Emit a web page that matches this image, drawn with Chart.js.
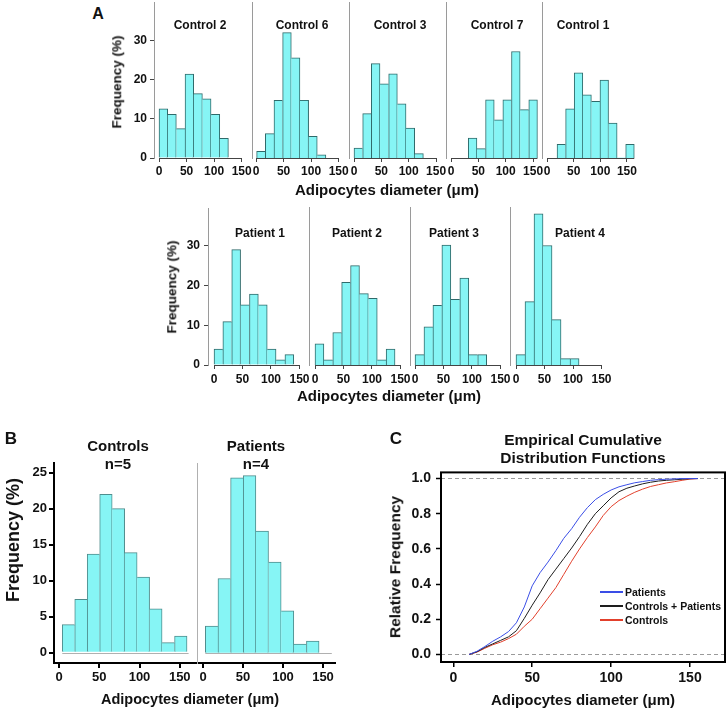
<!DOCTYPE html>
<html>
<head>
<meta charset="utf-8">
<title>Adipocytes diameter</title>
<script src="https://cdn.jsdelivr.net/npm/chart.js"></script>
<style>
  body { margin: 0; background: #fff; }
  #fig { position: relative; width: 727px; height: 709px; overflow: hidden; background: #fff;
         font-family: "Liberation Sans", Arial, Helvetica, sans-serif; font-weight: bold; color: #111; }
  #fig canvas { position: absolute; }
  .txt { position: absolute; white-space: nowrap; line-height: 1; }
  .key { position: absolute; height: 2px; width: 23px; }
</style>
</head>
<body>
<div id="fig"></div>
<script>
// tick values
var histTicks = [0, 50, 100, 150];
var freqTicksA = [0, 10, 20, 30];
var freqTicksB = [0, 5, 10, 15, 20, 25];
var relTicks = [0, 0.2, 0.4, 0.6, 0.8, 1.0];

// A - one histogram per subject (bin centre in um, frequency in %)
var controlNames = ['Control 2', 'Control 6', 'Control 3', 'Control 7', 'Control 1'];
var control2Bins = [7.9, 23.6, 39.4, 55.1, 70.9, 86.6, 102.4, 118.1];
var control2Freq = [12.5, 11.1, 7.5, 21.4, 16.4, 15.1, 11.1, 5.0];
var control6Bins = [9.0, 24.8, 40.5, 56.2, 71.9, 87.6, 103.3, 119.0];
var control6Freq = [1.7, 6.2, 14.7, 31.9, 25.5, 14.7, 5.5, 0.8];
var control3Bins = [7.9, 23.8, 39.6, 55.5, 71.3, 87.2, 103.0, 118.9];
var control3Freq = [2.5, 11.3, 24.0, 18.9, 21.4, 13.8, 7.6, 1.1];
var control7Bins = [39.5, 55.3, 71.1, 86.9, 102.7, 118.5, 134.3, 150.1];
var control7Freq = [5.1, 2.4, 14.8, 9.7, 14.8, 27.1, 12.3, 14.8];
var control1Bins = [26.9, 43.0, 59.1, 75.2, 91.3, 107.4, 123.5, 139.6, 155.7];
var control1Freq = [3.5, 12.5, 21.7, 16.1, 14.4, 19.8, 8.9, 0, 3.5];

var patientNames = ['Patient 1', 'Patient 2', 'Patient 3', 'Patient 4'];
var patient1Bins = [7.8, 23.3, 38.9, 54.4, 70.0, 85.6, 101.1, 116.7, 132.2];
var patient1Freq = [4.0, 10.9, 29.0, 15.1, 17.8, 15.1, 4.0, 1.3, 2.6];
var patient2Bins = [7.8, 23.4, 39.0, 54.6, 70.2, 85.8, 101.4, 117.0, 132.6];
var patient2Freq = [5.3, 1.3, 8.1, 20.6, 24.8, 17.8, 16.6, 1.3, 4.0];
var patient3Bins = [7.9, 23.6, 39.3, 55.0, 70.8, 86.5, 102.2, 117.9];
var patient3Freq = [2.6, 9.5, 14.9, 29.9, 16.4, 21.7, 2.6, 2.6];
var patient4Bins = [7.9, 23.7, 39.5, 55.3, 71.1, 86.9, 102.7];
var patient4Freq = [2.6, 15.8, 37.7, 29.8, 11.3, 1.6, 1.6];

// B - pooled groups
var groupNames = ['Controls', 'Patients'];
var groupCounts = ['n=5', 'n=4'];
var pooledControlBins = [11.8, 27.3, 42.8, 58.3, 73.8, 89.3, 104.8, 120.3, 135.8, 151.3];
var pooledControlFreq = [3.9, 7.4, 13.7, 22.0, 20.0, 13.9, 10.5, 6.1, 1.4, 2.3];
var pooledPatientBins = [10.8, 26.6, 42.4, 58.2, 74.0, 89.8, 105.6, 121.4, 137.2];
var pooledPatientFreq = [3.7, 10.3, 24.3, 24.6, 16.9, 12.6, 5.8, 1.2, 1.6];

// C - empirical cumulative distribution functions
var ecdfNames = ['Patients', 'Controls + Patients', 'Controls'];
var ecdfX = [10, 15, 20, 25, 30, 35, 40, 45, 50, 55, 60, 65, 70, 75, 80, 85, 90, 95, 100, 105,
             110, 115, 120, 125, 130, 135, 140, 145, 150, 155];
var ecdfPatients = [0, 0.018, 0.045, 0.075, 0.10, 0.13, 0.18, 0.27, 0.39, 0.465, 0.525, 0.59, 0.66, 0.715, 0.78,
                    0.835, 0.88, 0.91, 0.935, 0.953, 0.965, 0.976, 0.983, 0.99, 0.994, 0.996, 0.998, 1.0, 1.0, 1.0];
var ecdfAll = [0, 0.015, 0.04, 0.06, 0.08, 0.10, 0.135, 0.205, 0.28, 0.35, 0.425, 0.485, 0.545, 0.605, 0.67,
               0.74, 0.80, 0.845, 0.89, 0.925, 0.945, 0.958, 0.97, 0.979, 0.986, 0.99, 0.993, 0.996, 0.999, 1.0];
var ecdfControls = [0, 0.013, 0.035, 0.055, 0.07, 0.09, 0.115, 0.16, 0.20, 0.26, 0.32, 0.38, 0.455, 0.53, 0.60,
                    0.665, 0.725, 0.79, 0.84, 0.875, 0.90, 0.922, 0.94, 0.955, 0.965, 0.975, 0.982, 0.99, 0.997, 1.0];
var ecdfColors = ['#3a4ee6', '#1e1e1e', '#e2402c'];

var FONT = '"Liberation Sans", Arial, Helvetica, sans-serif';
var BAR_FILL = '#86F5F5';
var fig = document.getElementById('fig');

Chart.defaults.font.family = FONT;
Chart.defaults.font.weight = 'bold';
Chart.defaults.color = '#111';

function addCanvas(left, top, w, h) {
  var c = document.createElement('canvas');
  c.width = w; c.height = h;
  c.style.left = left + 'px'; c.style.top = top + 'px';
  c.style.width = w + 'px'; c.style.height = h + 'px';
  fig.appendChild(c);
  return c;
}

function addText(txt, cx, cy, size, rot) {
  var d = document.createElement('div');
  d.className = 'txt';
  d.textContent = txt;
  d.style.left = cx + 'px';
  d.style.top = cy + 'px';
  d.style.fontSize = size + 'px';
  d.style.transform = 'translate(-50%, -50%)' + (rot ? ' rotate(-90deg)' : '');
  fig.appendChild(d);
}

function tickList(vals) {
  return function (s) { s.ticks = vals.map(function (v) { return { value: v }; }); };
}

// line under the bars, only over the span given
var baseLine = {
  id: 'baseLine',
  afterDatasetsDraw: function (chart, args, o) {
    if (!o.color) return;
    var x = chart.scales.x, y = chart.scales.y, ctx = chart.ctx;
    var yp = Math.round(y.getPixelForValue(0)) + 0.5;
    ctx.save();
    ctx.strokeStyle = o.color;
    ctx.lineWidth = 1;
    ctx.beginPath();
    ctx.moveTo(x.getPixelForValue(o.from), yp);
    ctx.lineTo(x.getPixelForValue(o.to), yp);
    ctx.stroke();
    ctx.restore();
  }
};

// box round the plot area
var frame = {
  id: 'frame',
  afterDatasetsDraw: function (chart) {
    var a = chart.chartArea, ctx = chart.ctx;
    ctx.save();
    ctx.strokeStyle = '#000';
    ctx.lineWidth = 2;
    ctx.strokeRect(a.left, a.top, a.right - a.left, a.bottom - a.top);
    ctx.restore();
  }
};

// a shared edge between two bars is drawn once, by the taller one
function edgeWidths(freq) {
  return function (c) {
    var i = c.dataIndex, n = freq.length;
    return {
      top: 1,
      bottom: 0,
      left: (i === 0 || freq[i] >= freq[i - 1]) ? 1 : 0,
      right: (i === n - 1 || freq[i] > freq[i + 1]) ? 1 : 0
    };
  };
}

function histChart(p) {
  var yw = 40, xh = 30, padT = 10, padR = 14;
  var canvas = addCanvas(p.left - yw, p.top - padT, yw + p.width + padR, padT + p.height + xh);
  var xMin = -p.zero / p.k;
  var pts = p.bins.map(function (b, i) { return { x: b, y: p.freq[i] }; });
  return new Chart(canvas, {
    type: 'bar',
    data: {
      datasets: [{
        data: pts,
        backgroundColor: BAR_FILL,
        borderColor: p.edge,
        borderWidth: edgeWidths(p.freq),
        borderSkipped: false,
        categoryPercentage: 1,
        barPercentage: 1
      }]
    },
    options: {
      responsive: false,
      animation: false,
      events: [],
      layout: { padding: { top: padT, right: padR, left: 0, bottom: 0 } },
      plugins: {
        legend: { display: false },
        tooltip: { enabled: false },
        baseLine: { color: p.baseColor, from: p.base[0], to: p.base[1] }
      },
      scales: {
        x: {
          type: 'linear',
          offset: false,
          min: xMin,
          max: xMin + p.width / p.k,
          afterBuildTicks: tickList(histTicks),
          afterFit: function (s) { s.height = xh; },
          border: { display: p.xBorder, color: '#000', width: 2 },
          grid: { offset: false, drawOnChartArea: false, tickLength: p.tickLen, color: p.tickColor, lineWidth: p.tickWidth },
          ticks: { autoSkip: false, maxRotation: 0, padding: p.xPad, font: { size: p.fs } }
        },
        y: {
          min: p.yMin,
          max: p.yMax,
          afterBuildTicks: tickList(p.yTicks),
          afterFit: function (s) { s.width = yw; },
          border: { display: true, color: p.sep, width: p.sepWidth },
          grid: { display: p.showY, drawOnChartArea: false, tickLength: p.tickLen, color: p.tickColor, lineWidth: p.tickWidth },
          ticks: { display: p.showY, padding: p.yPad, font: { size: p.fs } }
        }
      }
    },
    plugins: [baseLine]
  });
}

// ---- panel A, top row (controls) ----
var topBins = [control2Bins, control6Bins, control3Bins, control7Bins, control1Bins];
var topFreq = [control2Freq, control6Freq, control3Freq, control7Freq, control1Freq];
var topLefts = [154, 252, 349, 446, 542];
var topWidths = [98, 97, 97, 96, 97];
var topZero = [5, 4, 5, 5, 5];
var topK = [0.551, 0.551, 0.547, 0.547, 0.533];
var topTitleX = [200, 302, 400, 497, 583];

topBins.forEach(function (bins, i) {
  var step = bins[1] - bins[0];
  histChart({
    left: topLefts[i], top: 2, width: topWidths[i], height: 156,
    zero: topZero[i], k: topK[i], yMin: 0, yMax: 156 / 3.93,
    bins: bins, freq: topFreq[i], yTicks: freqTicksA, showY: i === 0,
    edge: '#2f6a6a', sep: '#9a9a9a', sepWidth: 1, xBorder: false,
    tickColor: '#444', tickWidth: 1, tickLen: 4, xPad: 2, yPad: 3, fs: 12,
    baseColor: '#444', base: [0, Math.max(150, bins[bins.length - 1] + step / 2)]
  });
  addText(controlNames[i], topTitleX[i], 25, 12);
});

// ---- panel A, bottom row (patients) ----
var botBins = [patient1Bins, patient2Bins, patient3Bins, patient4Bins];
var botFreq = [patient1Freq, patient2Freq, patient3Freq, patient4Freq];
var botLefts = [208, 309, 410, 510];
var botWidths = [101, 101, 100, 95];
var botZero = [6, 6, 5, 6];
var botTitleX = [260, 357, 454, 580];

botBins.forEach(function (bins, i) {
  var step = bins[1] - bins[0];
  histChart({
    left: botLefts[i], top: 207, width: botWidths[i], height: 158,
    zero: botZero[i], k: 0.57, yMin: 0, yMax: 158 / 4.01,
    bins: bins, freq: botFreq[i], yTicks: freqTicksA, showY: i === 0,
    edge: '#2f6a6a', sep: '#9a9a9a', sepWidth: 1, xBorder: false,
    tickColor: '#444', tickWidth: 1, tickLen: 4, xPad: 3, yPad: 4, fs: 12,
    baseColor: '#444', base: [0, Math.max(150, bins[bins.length - 1] + step / 2)]
  });
  addText(patientNames[i], botTitleX[i], 233, 12);
});

addText('A', 98, 14, 16);
addText('Frequency (%)', 117, 82, 13.5, true);
addText('Adipocytes diameter (\u03bcm)', 387, 189, 15);
addText('Frequency (%)', 172, 287, 13.5, true);
addText('Adipocytes diameter (\u03bcm)', 389, 395, 15);

// ---- panel B ----
var pooledBins = [pooledControlBins, pooledPatientBins];
var pooledFreq = [pooledControlFreq, pooledPatientFreq];
var bLefts = [54, 197];
var bWidths = [143, 138];
var bZero = [5, 6];
var bK = [0.805, 0.80];
var bTitleX = [118, 256];

pooledBins.forEach(function (bins, i) {
  var step = bins[1] - bins[0];
  histChart({
    left: bLefts[i], top: 463, width: bWidths[i], height: 200,
    zero: bZero[i], k: bK[i], yMin: -10.3 / 7.2, yMax: 189.7 / 7.2,
    bins: bins, freq: pooledFreq[i], yTicks: freqTicksB, showY: i === 0,
    edge: '#4f8d8d', sep: i === 0 ? '#000' : '#b0b0b0', sepWidth: i === 0 ? 2 : 1, xBorder: true,
    tickColor: '#000', tickWidth: 2, tickLen: 5, xPad: 2, yPad: 2, fs: 13,
    baseColor: '#b0b0b0', base: [bins[0] - step / 2, 161]
  });
  addText(groupNames[i], bTitleX[i], 445, 15);
  addText(groupCounts[i], bTitleX[i], 463, 15);
});

addText('B', 11, 438, 17);
addText('Frequency (%)', 13, 540, 18, true);
addText('Adipocytes diameter (\u03bcm)', 190, 699, 14.5);

// ---- panel C ----
(function () {
  var left = 441, top = 469, width = 284, height = 193;
  var yw = 50, xh = 30, padT = 10, padR = 2;
  var k = 1.578, zero = 12.3;
  var series = [ecdfPatients, ecdfAll, ecdfControls];
  var canvas = addCanvas(left - yw, top - padT, yw + width + padR, padT + height + xh);
  new Chart(canvas, {
    type: 'line',
    data: {
      datasets: ecdfNames.map(function (name, i) {
        return {
          label: name,
          data: ecdfX.map(function (x, j) { return { x: x, y: series[i][j] }; }),
          borderColor: ecdfColors[i],
          borderWidth: 1,
          pointRadius: 0,
          tension: 0,
          fill: false
        };
      })
    },
    options: {
      responsive: false,
      animation: false,
      events: [],
      layout: { padding: { top: padT, right: padR, left: 0, bottom: 0 } },
      plugins: { legend: { display: false }, tooltip: { enabled: false } },
      scales: {
        x: {
          type: 'linear',
          min: -zero / k,
          max: -zero / k + width / k,
          afterBuildTicks: tickList(histTicks),
          afterFit: function (s) { s.height = xh; },
          border: { display: false },
          grid: { drawOnChartArea: false, tickLength: 5, color: '#000', lineWidth: 1.5 },
          ticks: { autoSkip: false, maxRotation: 0, padding: 3, font: { size: 14 } }
        },
        y: {
          min: -0.043,
          max: 1.035,
          afterBuildTicks: tickList(relTicks),
          afterFit: function (s) { s.width = yw; },
          border: { display: false, dash: [4, 3] },
          grid: {
            color: function (c) {
              return c.tick && (c.tick.value === 0 || c.tick.value === 1) ? '#9a9a9a' : 'rgba(0,0,0,0)';
            },
            tickColor: '#000', tickLength: 5, lineWidth: 1, tickWidth: 1.5
          },
          ticks: { padding: 5, font: { size: 14 }, callback: function (v) { return v.toFixed(1); } }
        }
      }
    },
    plugins: [frame]
  });

  // legend
  var keyY = [592, 606, 620];
  ecdfNames.forEach(function (name, i) {
    var ln = document.createElement('div');
    ln.className = 'key';
    ln.style.left = '600px';
    ln.style.top = (keyY[i] - 1) + 'px';
    ln.style.background = ecdfColors[i];
    fig.appendChild(ln);
    var t = document.createElement('div');
    t.className = 'txt';
    t.textContent = name;
    t.style.left = '625px';
    t.style.top = keyY[i] + 'px';
    t.style.fontSize = '10.5px';
    t.style.transform = 'translateY(-50%)';
    fig.appendChild(t);
  });
})();

addText('C', 396, 438, 17);
addText('Empirical Cumulative', 583, 440, 15.5);
addText('Distribution Functions', 583, 458, 15.5);
addText('Relative Frequency', 395, 567, 15.5, true);
addText('Adipocytes diameter (\u03bcm)', 583, 699, 15);
</script>
</body>
</html>
